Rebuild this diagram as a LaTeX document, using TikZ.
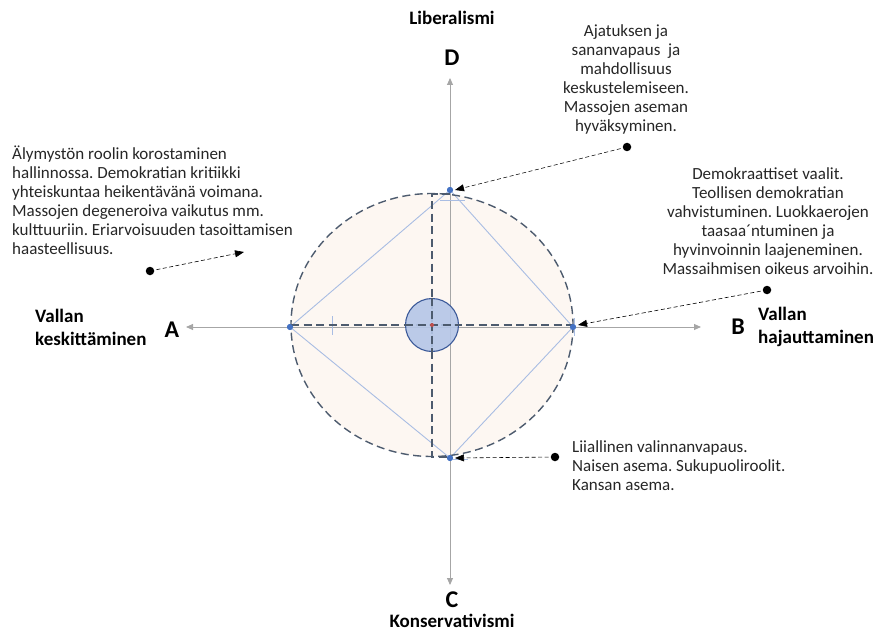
\documentclass[tikz,border=0pt]{standalone}
\usepackage{fontspec}
\setmainfont{Carlito}
\frenchspacing
\usetikzlibrary{arrows.meta}
\definecolor{axisgray}{HTML}{A6A6A6}
\definecolor{peach}{HTML}{FDF7F2}
\definecolor{slate}{HTML}{4D5B6E}
\definecolor{diamondblue}{HTML}{A9BDE3}
\definecolor{innerfill}{HTML}{B4C6E7}
\definecolor{innerdraw}{HTML}{3C5A99}
\definecolor{dotblue}{HTML}{4472C4}
\definecolor{reddot}{HTML}{C0504D}
\tikzset{
  axis/.style={draw=axisgray, line width=0.9pt, -{Triangle[length=7pt,width=6pt]}},
  slatedash/.style={draw=slate, line width=1.4pt, dash pattern=on 8pt off 4.5pt},
  diamondline/.style={draw=diamondblue, line width=0.9pt},
  bluedot/.style={circle, fill=dotblue, inner sep=0pt, minimum size=6pt},
  blackdot/.style={circle, fill=black, inner sep=0pt, minimum size=8.5pt},
  callout/.style={draw=black, line width=0.6pt, dash pattern=on 4pt off 2.5pt, -{Triangle[length=9pt,width=7pt]}},
  bodytext/.style={font=\fontsize{17}{19}\selectfont, inner sep=0pt, text=black!85},
  boldlabel/.style={font=\fontsize{19}{23}\selectfont\bfseries, inner sep=0pt},
  letterlabel/.style={font=\fontsize{24}{26}\selectfont\bfseries, inner sep=0pt},
}
\begin{document}
\begin{tikzpicture}[x=1pt,y=-1pt]
\useasboundingbox (0,0) rectangle (882,631);
% circle
\fill[peach] (432,325) ellipse [x radius=141, y radius=131.5];
% axes
\coordinate (ctr) at (450,327);
\coordinate (axT) at (450,78);
\coordinate (axB) at (450,585);
\coordinate (axL) at (186,327);
\coordinate (axR) at (701,327);
\draw[axis] (ctr) -- (axT);
\draw[axis] (ctr) -- (axB);
\draw[axis] (ctr) -- (axL);
\draw[axis] (ctr) -- (axR);
% diamond points
\node[bluedot] (pT) at (450,190) {};
\node[bluedot] (pR) at (573,327) {};
\node[bluedot] (pB) at (450,458) {};
\node[bluedot] (pL) at (290,327) {};
\draw[diamondline] (pT.center) -- (pR.center) -- (pB.center) -- (pL.center) -- cycle;
\draw[diamondline] (440,200) -- (465,200);
\draw[diamondline] (332,316) -- (332,335);
\draw[diamondline] (450,459) -- (468,459);
\draw[diamondline] (574,318) -- (574,336);
% dashed ellipse and cross
\draw[slatedash] (432,325) ellipse [x radius=141, y radius=131.5];
\draw[slatedash] (450,194) -- (432,194) -- (432,457) -- (450,457);
\draw[slatedash] (291,325) -- (573,325);
% inner circle
\node[circle, fill=innerfill, draw=innerdraw, line width=1.1pt, minimum size=53pt, inner sep=0pt, fill opacity=0.9] (inner) at (432,325) {};
\draw[slatedash] (432,298) -- (432,352);
\draw[slatedash] (405,325) -- (459,325);
\node[circle, fill=reddot, inner sep=0pt, minimum size=4pt] (rd) at (432,325) {};
\node[bluedot] at (pT) {};
\node[bluedot] at (pR) {};
\node[bluedot] at (pB) {};
\node[bluedot] at (pL) {};
% labels
\node[boldlabel] (lib) at (452,18) {Liberalismi};
\node[letterlabel] (D) at (452,58) {D};
\node[letterlabel] (C) at (452,600) {C};
\node[boldlabel] (kons) at (452,621) {Konservativismi};
\node[letterlabel] (A) at (172,330) {A};
\node[letterlabel] (B) at (738,327) {B};
\node[boldlabel, align=left, anchor=north west] (vk) at (35,309) {Vallan\\keskittäminen};
\node[boldlabel, align=left, anchor=north west] (vh) at (758,307) {Vallan\\hajauttaminen};
% texts
\node[bodytext, align=left, anchor=north west] (tl) at (12,146) {Älymystön roolin korostaminen\\hallinnossa. Demokratian kritiikki\\yhteiskuntaa heikentävänä voimana.\\Massojen degeneroiva vaikutus mm.\\kulttuuriin. Eriarvoisuuden tasoittamisen\\haasteellisuus.};
\node[bodytext, align=center, anchor=north] (tt) at (626,24) {Ajatuksen ja\\sananvapaus\ \ ja\\mahdollisuus\\keskustelemiseen.\\Massojen aseman\\hyväksyminen.};
\node[bodytext, align=center, anchor=north] (tr) at (768,167) {Demokraattiset vaalit.\\Teollisen demokratian\\vahvistuminen. Luokkaerojen\\taasaa´ntuminen ja\\hyvinvoinnin laajeneminen.\\Massaihmisen oikeus arvoihin.};
\node[bodytext, align=left, anchor=north west] (tb) at (572,440) {Liiallinen valinnanvapaus.\\Naisen asema. Sukupuoliroolit.\\Kansan asema.};
% callouts
\node[blackdot] (dT) at (627,147) {};
\node[blackdot] (dL) at (150,271) {};
\node[blackdot] (dR) at (767,290) {};
\node[blackdot] (dB) at (555,457) {};
\coordinate (eT) at (455,190);
\coordinate (eL) at (244,252);
\coordinate (eR) at (578,325);
\coordinate (eB) at (455,458);
\draw[callout] (dT.center) -- (eT);
\draw[callout] (dL.center) -- (eL);
\draw[callout] (dR.center) -- (eR);
\draw[callout] (dB.center) -- (eB);
\end{tikzpicture}
\end{document}
